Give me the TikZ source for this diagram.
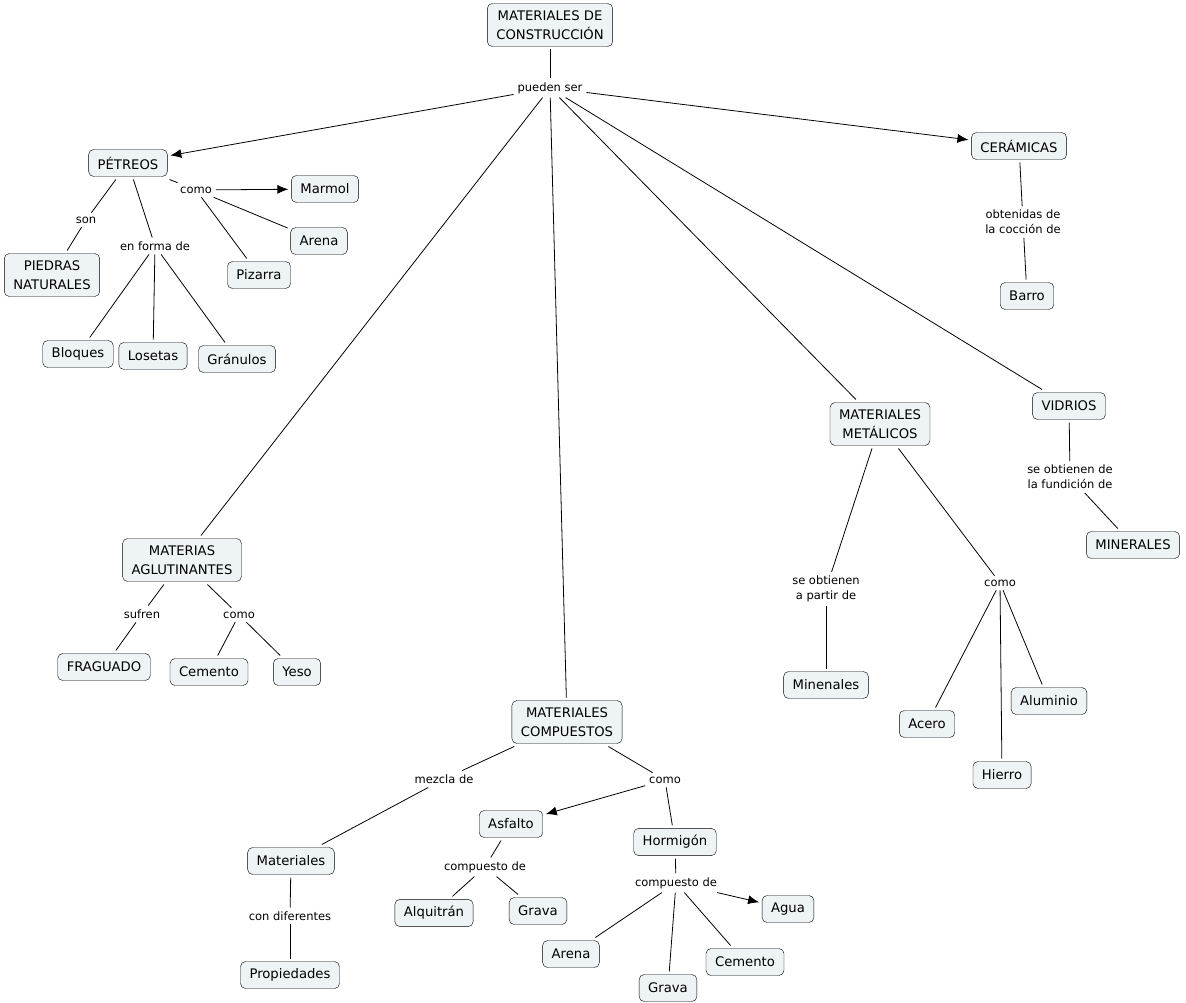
\documentclass[tikz,border=0pt]{standalone}
\usepackage{fontspec}
\setmainfont{DejaVu Sans}
\usetikzlibrary{shapes.geometric, arrows.meta}
\definecolor{fondo}{HTML}{EEF3F6}
\tikzstyle{concepto} = [rectangle, rounded corners=5pt, draw=black, fill=fondo, align=center, inner xsep=9pt, inner ysep=7pt, minimum height=27pt, font=\fontsize{13.2}{19}\selectfont, outer sep=3pt]
\tikzstyle{enlace} = [rectangle, align=center, inner sep=2pt, font=\fontsize{11.5}{15}\selectfont, outer sep=2pt]
\tikzstyle{linea} = [line width=0.8pt]
\tikzstyle{flecha} = [line width=0.8pt, -{Latex[length=11pt,width=9pt]}]
\begin{document}
\begin{tikzpicture}[x=1pt, y=-1pt]
        \useasboundingbox (0,0) rectangle (1186,1003);
        \node (matcons) [concepto] at (550,25) {MATERIALES DE\\CONSTRUCCIÓN};
        \node (pueden) [enlace] at (550,88) {pueden ser};
        \node (petreos) [concepto] at (128,163) {PÉTREOS};
        \node (ceramicas) [concepto] at (1019,146) {CERÁMICAS};
        \node (obtenidas) [enlace] at (1023,222) {obtenidas de\\la cocción de};
        \node (barro) [concepto] at (1027,296) {Barro};
        \node (como1) [enlace] at (196,190) {como};
        \node (marmol) [concepto] at (325,189) {Marmol};
        \node (arena1) [concepto] at (319,241) {Arena};
        \node (pizarra) [concepto] at (259,275) {Pizarra};
        \node (son) [enlace] at (86,220) {son};
        \node (piedras) [concepto] at (52,275) {PIEDRAS\\NATURALES};
        \node (forma) [enlace] at (155,246) {en forma de};
        \node (bloques) [concepto] at (78,354) {Bloques};
        \node (losetas) [concepto] at (153,356) {Losetas};
        \node (granulos) [concepto] at (237,359) {Gránulos};
        \node (aglut) [concepto] at (182,560) {MATERIAS\\AGLUTINANTES};
        \node (sufren) [enlace] at (142,614) {sufren};
        \node (como2) [enlace] at (239,615) {como};
        \node (fraguado) [concepto] at (104,667) {FRAGUADO};
        \node (cemento1) [concepto] at (209,672) {Cemento};
        \node (yeso) [concepto] at (297,672) {Yeso};
        \node (compuestos) [concepto] at (567,722) {MATERIALES\\COMPUESTOS};
        \node (mezcla) [enlace] at (444,779) {mezcla de};
        \node (como3) [enlace] at (665,780) {como};
        \node (asfalto) [concepto] at (511,824) {Asfalto};
        \node (hormigon) [concepto] at (675,842) {Hormigón};
        \node (materiales) [concepto] at (291,861) {Materiales};
        \node (diferentes) [enlace] at (290,916) {con diferentes};
        \node (propiedades) [concepto] at (290,975) {Propiedades};
        \node (compasf) [enlace] at (485,867) {compuesto de};
        \node (alquitran) [concepto] at (434,913) {Alquitrán};
        \node (grava1) [concepto] at (538,911) {Grava};
        \node (comphor) [enlace] at (676,883) {compuesto de};
        \node (agua) [concepto] at (788,909) {Agua};
        \node (arena2) [concepto] at (571,954) {Arena};
        \node (grava2) [concepto] at (668,988) {Grava};
        \node (cemento2) [concepto] at (745,962) {Cemento};
        \node (metalicos) [concepto] at (880,424) {MATERIALES\\METÁLICOS};
        \node (partir) [enlace] at (826,589) {se obtienen\\a partir de};
        \node (como4) [enlace] at (1000,583) {como};
        \node (minenales) [concepto] at (826,685) {Minenales};
        \node (acero) [concepto] at (927,724) {Acero};
        \node (hierro) [concepto] at (1002,775) {Hierro};
        \node (aluminio) [concepto] at (1049,701) {Aluminio};
        \node (vidrios) [concepto] at (1069,406) {VIDRIOS};
        \node (fundicion) [enlace] at (1070,477) {se obtienen de\\la fundición de};
        \node (minerales) [concepto] at (1133,545) {MINERALES};
        \draw [linea] (matcons) -- (pueden);
        \draw [flecha] (pueden) -- (petreos);
        \draw [flecha] (pueden) -- (ceramicas);
        \draw [linea] (pueden) -- (aglut);
        \draw [linea] (pueden) -- (compuestos);
        \draw [linea] (pueden) -- (metalicos);
        \draw [linea] (pueden) -- (vidrios);
        \draw [linea] (ceramicas) -- (obtenidas);
        \draw [linea] (obtenidas) -- (barro);
        \draw [linea] (petreos) -- (como1);
        \draw [flecha] (como1) -- (marmol);
        \draw [linea] (como1) -- (arena1);
        \draw [linea] (como1) -- (pizarra);
        \draw [linea] (petreos) -- (son);
        \draw [linea] (son) -- (piedras);
        \draw [linea] (petreos) -- (forma);
        \draw [linea] (forma) -- (bloques);
        \draw [linea] (forma) -- (losetas);
        \draw [linea] (forma) -- (granulos);
        \draw [linea] (aglut) -- (sufren);
        \draw [linea] (sufren) -- (fraguado);
        \draw [linea] (aglut) -- (como2);
        \draw [linea] (como2) -- (cemento1);
        \draw [linea] (como2) -- (yeso);
        \draw [linea] (compuestos) -- (mezcla);
        \draw [linea] (mezcla) -- (materiales);
        \draw [linea] (materiales) -- (diferentes);
        \draw [linea] (diferentes) -- (propiedades);
        \draw [linea] (compuestos) -- (como3);
        \draw [flecha] (como3) -- (asfalto);
        \draw [linea] (como3) -- (hormigon);
        \draw [linea] (asfalto) -- (compasf);
        \draw [linea] (compasf) -- (alquitran);
        \draw [linea] (compasf) -- (grava1);
        \draw [linea] (hormigon) -- (comphor);
        \draw [flecha] (comphor) -- (agua);
        \draw [linea] (comphor) -- (arena2);
        \draw [linea] (comphor) -- (grava2);
        \draw [linea] (comphor) -- (cemento2);
        \draw [linea] (metalicos) -- (partir);
        \draw [linea] (partir) -- (minenales);
        \draw [linea] (metalicos) -- (como4);
        \draw [linea] (como4) -- (acero);
        \draw [linea] (como4) -- (hierro);
        \draw [linea] (como4) -- (aluminio);
        \draw [linea] (vidrios) -- (fundicion);
        \draw [linea] (fundicion) -- (minerales);
\end{tikzpicture}
\end{document}
